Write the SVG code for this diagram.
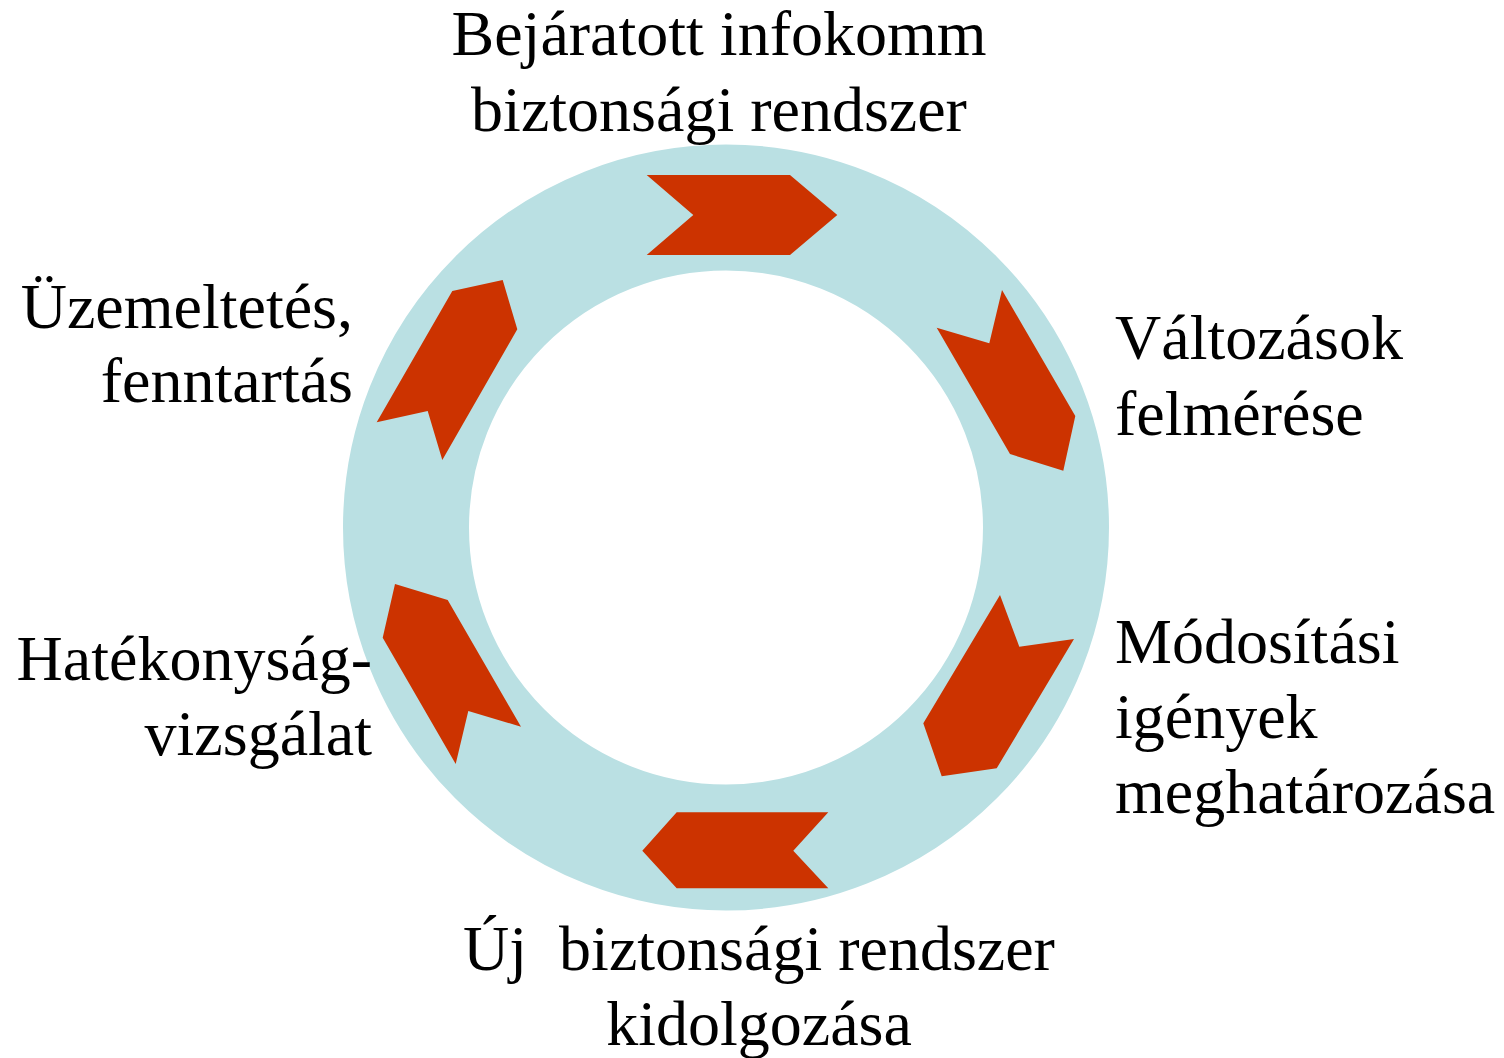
<svg xmlns="http://www.w3.org/2000/svg" width="1504" height="1058" viewBox="0 0 1504 1058">
<style>
.lbl{font-family:"Liberation Serif","Times New Roman",serif;font-size:64px;fill:#000}
.arr{fill:#CC3300}
</style>
<rect width="1504" height="1058" fill="#fff"/>
<g id="ring">
<circle cx="726" cy="527.5" r="320" fill="none" stroke="#BAE0E3" stroke-width="126"/>
</g>
<g id="connectors">
<polygon class="arr" points="646.7,175 790,175 837.3,215 790,255 646.7,255 693.3,215"/>
<polygon class="arr" points="936.7,327.7 989.3,343.3 1002,290 1075.3,416 1063.3,470.7 1010,454"/>
<polygon class="arr" points="1000,595 1019.3,646.7 1074,639 996.7,768.3 941.7,776.3 923.3,723.3"/>
<polygon class="arr" points="828.3,812.3 793.3,850.7 828.3,888.3 676.7,888.3 642.3,850.7 676.7,812.3"/>
<polygon class="arr" points="521,726.7 468.3,711 455.7,764 382.7,637.7 395,584 447.7,600"/>
<polygon class="arr" points="442.3,460 427.7,411 376.7,422.3 452.3,291 502.7,280 517.3,329.3"/>
</g>
<g id="node-top">
<text class="lbl" x="719" y="55" text-anchor="middle">Bejáratott infokomm</text>
<text class="lbl" x="719" y="131" text-anchor="middle">biztonsági rendszer</text>
</g>
<g id="node-right-top">
<text class="lbl" x="1115" y="359">Változások</text>
<text class="lbl" x="1115" y="435">felmérése</text>
</g>
<g id="node-right-bottom">
<text class="lbl" x="1115" y="663">Módosítási</text>
<text class="lbl" x="1115" y="738">igények</text>
<text class="lbl" x="1115" y="813">meghatározása</text>
</g>
<g id="node-bottom">
<text class="lbl" x="759" y="970" text-anchor="middle" xml:space="preserve">Új  biztonsági rendszer</text>
<text class="lbl" x="759" y="1045" text-anchor="middle">kidolgozása</text>
</g>
<g id="node-left-bottom">
<text class="lbl" x="372" y="680" text-anchor="end">Hatékonyság-</text>
<text class="lbl" x="372" y="755" text-anchor="end">vizsgálat</text>
</g>
<g id="node-left-top">
<text class="lbl" x="353" y="328" text-anchor="end">Üzemeltetés,</text>
<text class="lbl" x="353" y="402" text-anchor="end">fenntartás</text>
</g>
</svg>
